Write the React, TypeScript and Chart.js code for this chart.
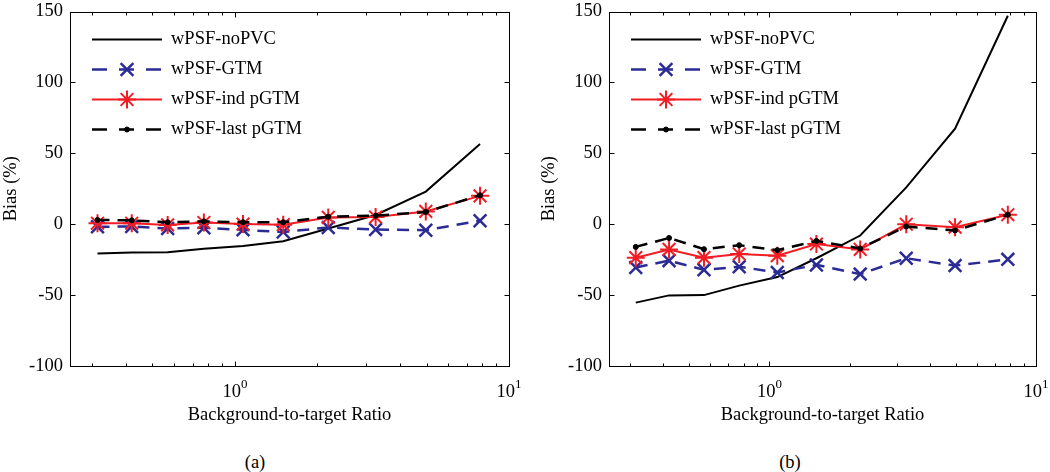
import React, { useEffect, useRef } from 'react';
import { Chart, registerables } from 'chart.js';

Chart.register(...registerables);

// ---------- data ----------
const ratios = [0.315, 0.42, 0.568, 0.77, 1.07, 1.5, 2.19, 3.26, 4.97, 7.84];
const seriesLabels = ['wPSF-noPVC', 'wPSF-GTM', 'wPSF-ind pGTM', 'wPSF-last pGTM'];

const aNoPVC = [-20.6, -20, -19.7, -17.3, -15.3, -12, -3, 6.5, 23, 56.5];
const aGTM = [-1.8, -1.6, -3, -2.5, -4, -5.5, -2.3, -3.8, -4.2, 2.5];
const aIndPGTM = [0.7, 0.7, -0.5, 1.2, 0.1, -0.3, 4.8, 5, 9, 20];
const aLastPGTM = [3, 2.7, 1.4, 2, 1.4, 1.4, 5.3, 6, 8.6, 20.4];

const bNoPVC = [-55.3, -50.2, -50, -43.3, -37.3, -24, -8, 26, 67.4, 147];
const bGTM = [-30.5, -25.7, -32.2, -30, -34, -28.7, -35.2, -24, -29.2, -24.8];
const bIndPGTM = [-23.6, -17.8, -23.6, -21, -22.2, -14, -17.8, 0, -2.1, 6.7];
const bLastPGTM = [-16, -9.7, -17.6, -14.8, -18.3, -11.8, -17.1, -1.6, -4.4, 6.7];

const yTicks = [-100, -50, 0, 50, 100, 150];
const xMajorTicks = [1, 10];
const xTickExponents = ['0', '1'];
const xMinorTicks = [0.3, 0.4, 0.5, 0.6, 0.7, 0.8, 0.9, 2, 3, 4, 5, 6, 7, 8, 9];
const panelLabels = ['(a)', '(b)'];
const xTitle = 'Background-to-target Ratio';
const yTitle = 'Bias (%)';

// ---------- styles ----------
const FAMILY = '"Liberation Serif", "Times New Roman", Times, serif';
const FSIZE = 18.5;

type Style = {
  color: string;
  width: number;
  dash: number[];
  legendDash: number[];
  pointStyle: string | false;
  radius: number;
  pointWidth: number;
  order: number;
};

const styles: Style[] = [
  { color: '#000000', width: 2, dash: [], legendDash: [], pointStyle: false, radius: 0, pointWidth: 0, order: 4 },
  { color: '#2b2b96', width: 2.5, dash: [12, 8], legendDash: [15, 12], pointStyle: 'crossRot', radius: 9, pointWidth: 2.5, order: 3 },
  { color: '#f21c24', width: 2, dash: [], legendDash: [], pointStyle: 'star', radius: 9, pointWidth: 2, order: 2 },
  { color: '#000000', width: 2.5, dash: [12, 8], legendDash: [15, 12], pointStyle: 'circle', radius: 2.5, pointWidth: 1, order: 1 },
];

function drawMarker(ctx: CanvasRenderingContext2D, style: Style, x: number, y: number) {
  if (!style.pointStyle) return;
  const r = style.radius;
  ctx.save();
  ctx.setLineDash([]);
  ctx.strokeStyle = style.color;
  ctx.fillStyle = style.color;
  ctx.lineWidth = style.pointWidth;
  ctx.beginPath();
  const d = r * Math.SQRT1_2;
  if (style.pointStyle === 'circle') {
    ctx.arc(x, y, r, 0, Math.PI * 2);
    ctx.fill();
    ctx.stroke();
  } else {
    ctx.moveTo(x - d, y - d); ctx.lineTo(x + d, y + d);
    ctx.moveTo(x - d, y + d); ctx.lineTo(x + d, y - d);
    if (style.pointStyle === 'star') {
      ctx.moveTo(x - r, y); ctx.lineTo(x + r, y);
      ctx.moveTo(x, y - r); ctx.lineTo(x, y + r);
    }
    ctx.stroke();
  }
  ctx.restore();
}

const axesPlugin = {
  id: 'matlabAxes',
  afterDatasetsDraw(chart: any) {
    const { ctx, chartArea: a, scales } = chart;
    const x = scales.x;
    const y = scales.y;
    ctx.save();
    ctx.setLineDash([]);
    ctx.strokeStyle = '#000';
    ctx.lineWidth = 1;
    const L = Math.round(a.left) + 0.5;
    const R = Math.round(a.right) + 0.5;
    const T = Math.round(a.top) + 0.5;
    const B = Math.round(a.bottom) + 0.5;
    ctx.strokeRect(L, T, R - L, B - T);
    ctx.beginPath();
    for (const v of yTicks) {
      const py = Math.round(y.getPixelForValue(v)) + 0.5;
      ctx.moveTo(L, py); ctx.lineTo(L + 5, py);
      ctx.moveTo(R, py); ctx.lineTo(R - 5, py);
    }
    for (const v of xMajorTicks) {
      const px = Math.round(x.getPixelForValue(v)) + 0.5;
      ctx.moveTo(px, B); ctx.lineTo(px, B - 5);
      ctx.moveTo(px, T); ctx.lineTo(px, T + 5);
    }
    for (const v of xMinorTicks) {
      const px = Math.round(x.getPixelForValue(v)) + 0.5;
      ctx.moveTo(px, B); ctx.lineTo(px, B - 3);
      ctx.moveTo(px, T); ctx.lineTo(px, T + 3);
    }
    ctx.stroke();

    // x tick labels: 10^n
    ctx.fillStyle = '#000';
    ctx.textBaseline = 'alphabetic';
    ctx.textAlign = 'left';
    xMajorTicks.forEach((v, i) => {
      const px = x.getPixelForValue(v);
      ctx.font = `${FSIZE}px ${FAMILY}`;
      const w1 = ctx.measureText('10').width;
      ctx.font = `13px ${FAMILY}`;
      const w2 = ctx.measureText(xTickExponents[i]).width;
      const start = px - (w1 + w2) / 2;
      ctx.font = `${FSIZE}px ${FAMILY}`;
      ctx.fillText('10', start, a.bottom + 31);
      ctx.font = `13px ${FAMILY}`;
      ctx.fillText(xTickExponents[i], start + w1, a.bottom + 22);
    });
    ctx.restore();
  },
  afterDraw(chart: any) {
    const { ctx, chartArea: a } = chart;
    ctx.save();
    seriesLabels.forEach((label, i) => {
      const st = styles[i];
      const yy = a.top + 28 + 30 * i;
      const x0 = a.left + 22;
      const x1 = x0 + 70;
      ctx.beginPath();
      ctx.setLineDash(st.legendDash);
      ctx.lineDashOffset = 0;
      ctx.strokeStyle = st.color;
      ctx.lineWidth = st.width;
      ctx.moveTo(x0, yy);
      ctx.lineTo(x1, yy);
      ctx.stroke();
      ctx.setLineDash([]);
      drawMarker(ctx, st, (x0 + x1) / 2, yy);
      ctx.fillStyle = '#000';
      ctx.font = `${FSIZE}px ${FAMILY}`;
      ctx.textBaseline = 'middle';
      ctx.textAlign = 'left';
      ctx.fillText(label, a.left + 101, yy);
    });
    ctx.restore();
  },
};

type PanelProps = {
  left: number;
  series: number[][];
  yWidth: number;
  yTitlePad: number;
  padRight: number;
};

function Panel({ left, series, yWidth, yTitlePad, padRight }: PanelProps) {
  const ref = useRef<HTMLCanvasElement>(null);
  useEffect(() => {
    const font = { family: FAMILY, size: FSIZE };
    const datasets = series.map((vals, i) => {
      const st = styles[i];
      return {
        label: seriesLabels[i],
        data: ratios.map((r, k) => ({ x: r, y: vals[k] })),
        borderColor: st.color,
        backgroundColor: st.color,
        borderWidth: st.width,
        borderDash: st.dash,
        pointStyle: st.pointStyle || 'circle',
        pointRadius: st.pointStyle ? st.radius : 0,
        pointBorderWidth: st.pointWidth,
        pointBorderColor: st.color,
        pointBackgroundColor: st.color,
        pointHoverRadius: st.pointStyle ? st.radius : 0,
        fill: false,
        tension: 0,
        order: st.order,
      };
    });
    const chart = new Chart(ref.current as HTMLCanvasElement, {
      type: 'line',
      data: { datasets } as any,
      plugins: [axesPlugin as any],
      options: {
        responsive: false,
        maintainAspectRatio: false,
        animation: false,
        devicePixelRatio: 1,
        layout: { padding: { top: 5, right: padRight, bottom: 4, left: 0 } },
        plugins: { legend: { display: false }, tooltip: { enabled: false } },
        scales: {
          x: {
            type: 'logarithmic',
            min: 0.25,
            max: 10,
            grid: { display: false, drawTicks: false },
            border: { display: false },
            ticks: { display: false },
            title: {
              display: true,
              text: xTitle,
              color: '#000',
              font,
              padding: { top: 0, bottom: 10 },
            },
            afterFit: (s: any) => {
              s.height = 70;
              s.paddingLeft = 0;
              s.paddingRight = 0;
            },
          },
          y: {
            type: 'linear',
            min: -100,
            max: 150,
            ticks: {
              stepSize: 50,
              color: '#000',
              font,
              padding: 7,
              callback: (v: any) => String(v),
            },
            grid: { display: false, drawTicks: false },
            border: { display: false },
            title: {
              display: true,
              text: yTitle,
              color: '#000',
              font,
              padding: { top: yTitlePad, bottom: 0 },
            },
            afterFit: (s: any) => {
              s.width = yWidth;
              s.paddingTop = 0;
              s.paddingBottom = 0;
            },
          },
        },
      } as any,
    });
    return () => chart.destroy();
  }, []);
  return (
    <canvas
      ref={ref}
      width={525}
      height={440}
      style={{ position: 'absolute', left, top: 0, width: 525, height: 440 }}
    />
  );
}

export default function App() {
  const capStyle: React.CSSProperties = {
    position: 'absolute',
    top: 451,
    width: 100,
    textAlign: 'center',
    fontFamily: FAMILY,
    fontSize: FSIZE,
    lineHeight: '22px',
    color: '#000',
  };
  return (
    <div
      style={{
        position: 'absolute',
        left: 0,
        top: 0,
        width: 1050,
        height: 472,
        background: '#fff',
        overflow: 'hidden',
      }}
    >
      <Panel left={0} series={[aNoPVC, aGTM, aIndPGTM, aLastPGTM]} yWidth={70} yTitlePad={0} padRight={16} />
      <Panel left={525} series={[bNoPVC, bGTM, bIndPGTM, bLastPGTM]} yWidth={84} yTitlePad={13} padRight={14} />
      <div style={{ ...capStyle, left: 205 }}>{panelLabels[0]}</div>
      <div style={{ ...capStyle, left: 740 }}>{panelLabels[1]}</div>
    </div>
  );
}
